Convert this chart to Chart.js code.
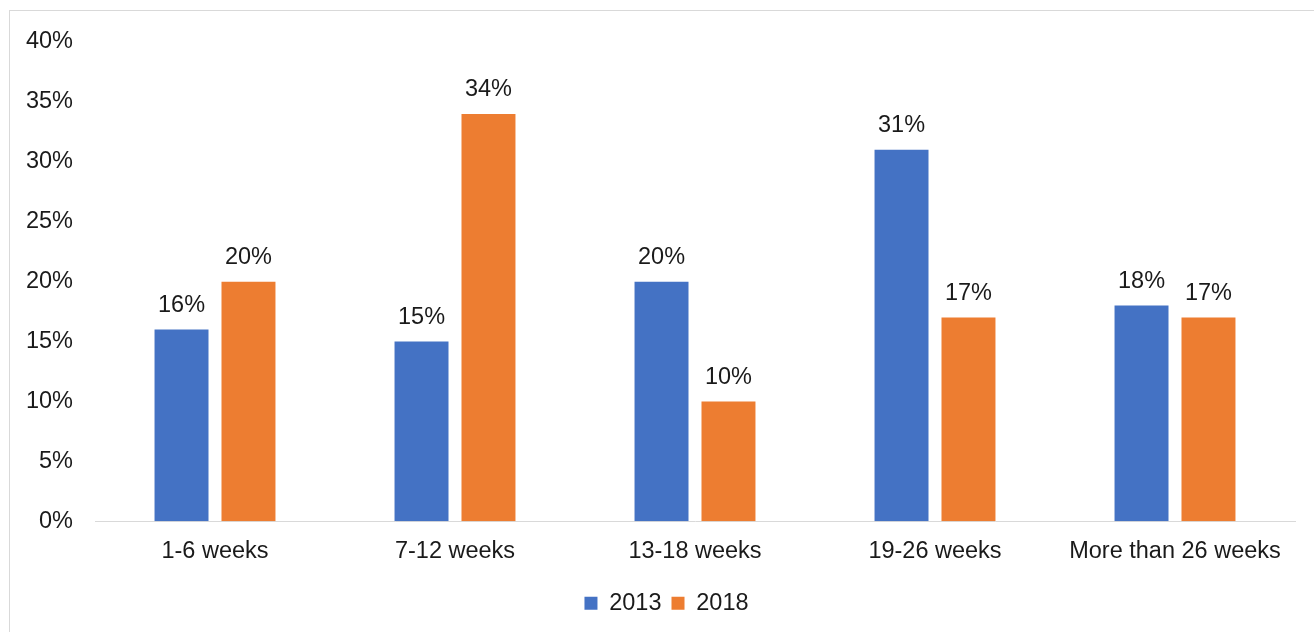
<!DOCTYPE html>
<html>
<head>
<meta charset="utf-8">
<script src="https://cdn.jsdelivr.net/npm/chart.js@4.4.1/dist/chart.umd.min.js"></script>
<style>
  html, body { margin: 0; padding: 0; background: #fff; }
  #wrap { position: relative; width: 1314px; height: 632px; }
</style>
</head>
<body>
<div id="wrap"><canvas id="chart" width="1314" height="632"></canvas></div>
<script>
"use strict";

const categories = ["1-6 weeks", "7-12 weeks", "13-18 weeks", "19-26 weeks", "More than 26 weeks"];
const series2013 = [16, 15, 20, 31, 18];
const series2018 = [20, 34, 10, 17, 17];
const yTicks = [0, 5, 10, 15, 20, 25, 30, 35, 40];

const FONT = "'Liberation Sans', Arial, sans-serif";
const TEXT = "#1a1a1a";
const SIZE = 23.5;

// light frame around the whole chart, like the Excel chart area
const framePlugin = {
  id: "frame",
  beforeDraw(chart) {
    const ctx = chart.ctx;
    ctx.save();
    ctx.strokeStyle = "#d9d9d9";
    ctx.lineWidth = 1;
    ctx.strokeRect(9.5, 10.5, 1400, 700);
    ctx.restore();
  },
  // legend in the original sits a bit right of centre
  afterLayout(chart) {
    if (chart.legend) {
      chart.legend.left += 19;
      chart.legend.right += 19;
    }
  },
};

// value labels above each bar
const valueLabels = {
  id: "valueLabels",
  afterDatasetsDraw(chart) {
    const ctx = chart.ctx;
    ctx.save();
    ctx.font = SIZE + "px " + FONT;
    ctx.fillStyle = TEXT;
    ctx.textAlign = "center";
    ctx.textBaseline = "middle";
    chart.data.datasets.forEach((ds, i) => {
      chart.getDatasetMeta(i).data.forEach((bar, j) => {
        ctx.fillText(ds.data[j] + "%", bar.x, bar.y - 24);
      });
    });
    ctx.restore();
  },
};

new Chart(document.getElementById("chart"), {
  type: "bar",
  data: {
    labels: categories,
    datasets: [
      { label: "2013", data: series2013, backgroundColor: "#4472C4" },
      { label: "2018", data: series2018, backgroundColor: "#ED7D31" },
    ],
  },
  options: {
    responsive: false,
    animation: false,
    categoryPercentage: 0.558,
    barPercentage: 0.806,
    layout: { padding: { top: 42, right: 19, bottom: 7, left: 0 } },
    scales: {
      x: {
        grid: { display: false, drawTicks: false },
        border: { display: true, color: "#d9d9d9", width: 1 },
        ticks: { color: TEXT, font: { family: FONT, size: SIZE }, padding: 16, maxRotation: 0 },
      },
      y: {
        min: 0,
        max: 40,
        afterBuildTicks(scale) {
          scale.ticks = yTicks.map((v) => ({ value: v }));
        },
        afterFit(scale) {
          scale.width = 95;
        },
        grid: { display: false, drawTicks: false },
        border: { display: false },
        ticks: {
          color: TEXT,
          font: { family: FONT, size: SIZE },
          padding: 22,
          callback: (v) => v + "%",
        },
      },
    },
    plugins: {
      legend: {
        position: "bottom",
        labels: {
          color: TEXT,
          font: { family: FONT, size: SIZE },
          boxWidth: 13,
          boxHeight: 13,
          padding: 10,
        },
      },
      tooltip: { enabled: false },
    },
  },
  plugins: [framePlugin, valueLabels],
});
</script>
</body>
</html>
